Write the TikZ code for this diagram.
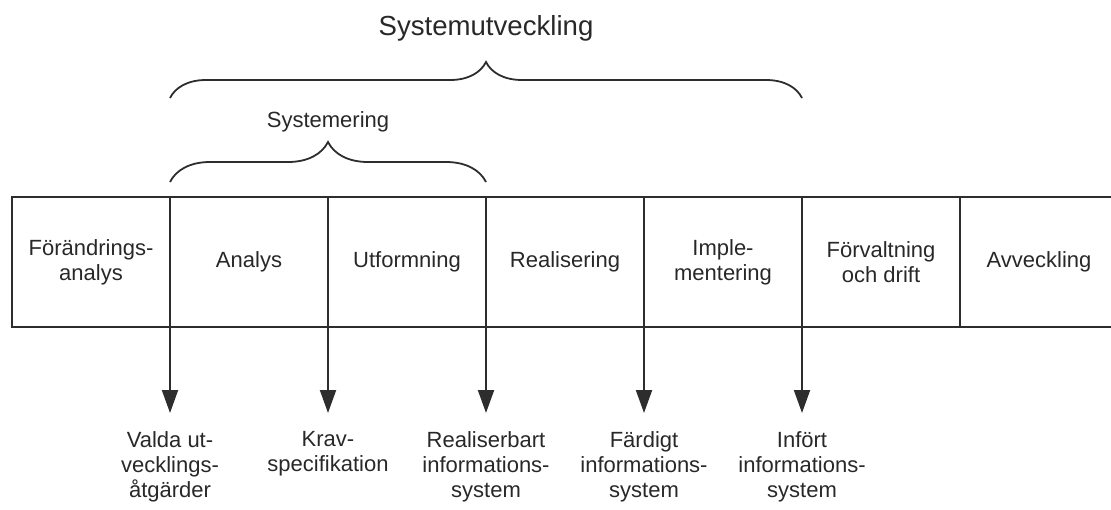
\documentclass[tikz,border=0pt]{standalone}
\usepackage{fontspec}
\setmainfont{Liberation Sans}
\usepackage{tikz}
\usetikzlibrary{arrows.meta, positioning, decorations.pathreplacing}
\definecolor{linegray}{RGB}{45, 45, 45}
\definecolor{textgray}{RGB}{40, 40, 40}

\begin{document}
\begin{tikzpicture}[
    x=0.5pt, y=-0.5pt,
    every node/.style={font=\fontsize{11}{12.5}\selectfont, align=center, text=textgray},
    phase/.style={draw=linegray, line width=1pt, minimum width=79pt, minimum height=65pt, inner sep=0pt, outer sep=0pt},
    result/.style={inner sep=0pt},
    arr/.style={-{Triangle[length=11.5pt, width=8pt]}, line width=1pt, color=linegray, shorten >=9pt},
    brace/.style={decorate, decoration={brace, amplitude=18pt}, line width=0.9pt, color=linegray}
]
\useasboundingbox (0,0) rectangle (1111,509);

% Phase boxes
\node[phase, anchor=north west] (forand) at (12,197) {Förändrings-\\analys};
\node[phase, right=0pt of forand] (analys) {Analys};
\node[phase, right=0pt of analys] (utform) {Utformning};
\node[phase, right=0pt of utform] (realis) {Realisering};
\node[phase, right=0pt of realis] (implem) {Imple-\\mentering};
\node[phase, right=0pt of implem] (forvalt) {Förvaltning\\och drift};
\node[phase, right=0pt of forvalt] (avveckl) {Avveckling};

% Results below the bar
\node[result, below=52pt of analys.south west] (valda) {Valda ut-\\vecklings-\\åtgärder};
\node[result, below=52pt of utform.south west] (krav) {Krav-\\specifikation};
\node[result, below=52pt of realis.south west] (realb) {Realiserbart\\informations-\\system};
\node[result, below=52pt of implem.south west] (fardig) {Färdigt\\informations-\\system};
\node[result, below=52pt of forvalt.south west] (infort) {Infört\\informations-\\system};

\draw[arr] (analys.south west) -- (valda);
\draw[arr] (utform.south west) -- (krav);
\draw[arr] (realis.south west) -- (realb);
\draw[arr] (implem.south west) -- (fardig);
\draw[arr] (forvalt.south west) -- (infort);

% Braces above the bar
\draw[brace] ([yshift=49.5pt]analys.north west) -- ([yshift=49.5pt]implem.north east)
    node[midway, yshift=35pt, font=\fontsize{13.8}{16}\selectfont] (sysutv) {Systemutveckling};
\draw[brace, decoration={amplitude=20pt}] ([yshift=7.5pt]analys.north west) -- ([yshift=7.5pt]utform.north east)
    node[midway, yshift=30pt] (system) {Systemering};

\end{tikzpicture}
\end{document}
